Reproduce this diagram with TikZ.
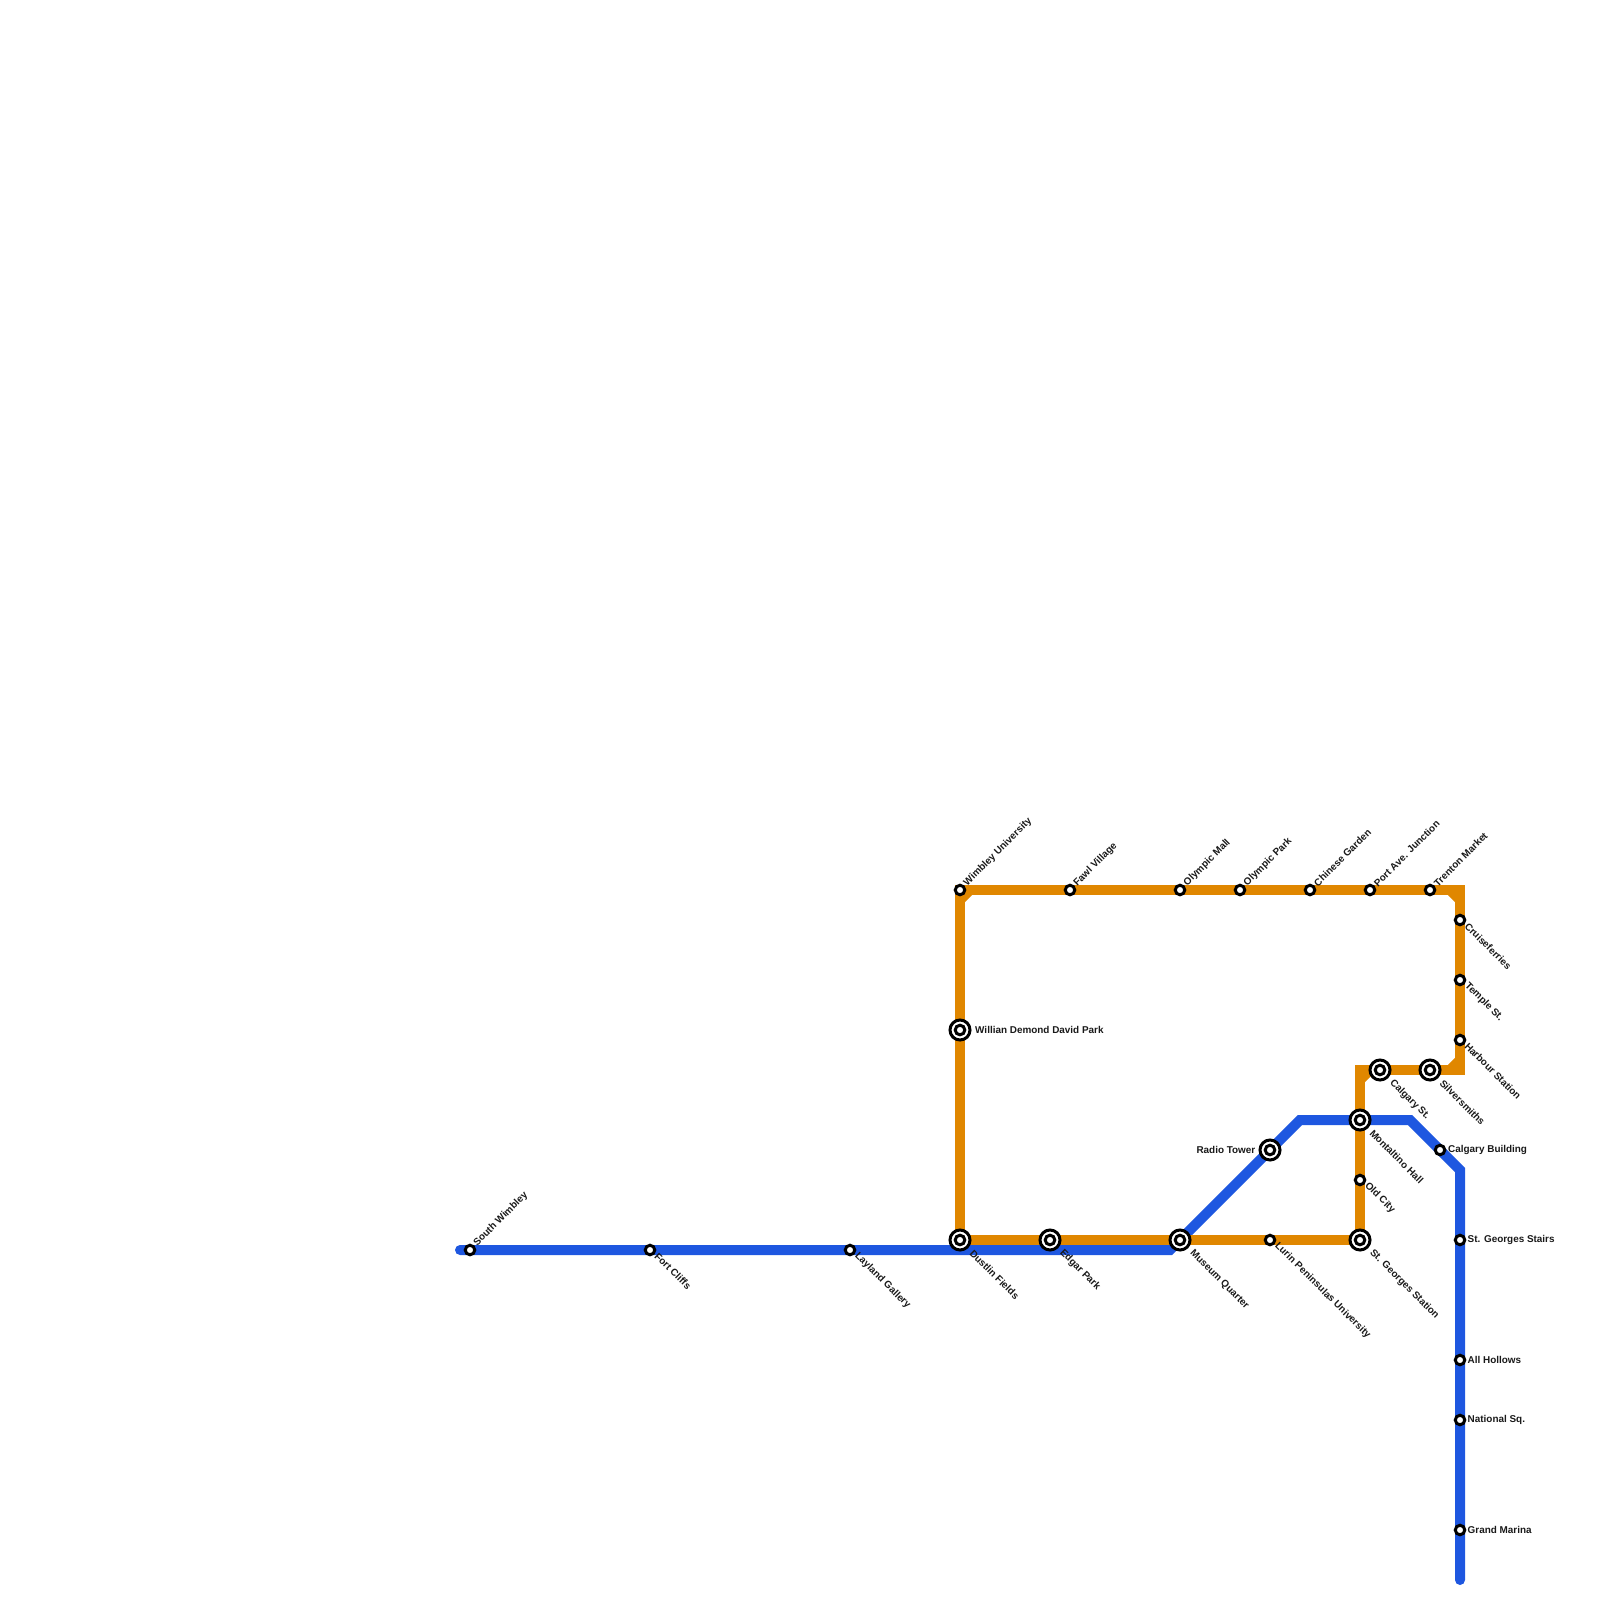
\documentclass[tikz,border=0pt]{standalone}
\usepackage{fontspec}
\setmainfont{Liberation Sans}
\usetikzlibrary{backgrounds}
\definecolor{linkblue}{RGB}{30, 87, 224}
\definecolor{linkorange}{RGB}{224, 135, 0}

\begin{document}
\begin{tikzpicture}[
    x=0.01cm, y=-0.01cm,
    bluetrack/.style={draw=linkblue, line width=1mm, line cap=round, line join=miter},
    orangetrack/.style={draw=linkorange, line width=1mm, line join=miter},
    halt/.style={circle, draw=black, fill=white, line width=0.3mm, minimum size=0.095cm, inner sep=0pt},
    hub/.style={circle, draw=black, fill=white, line width=0.3mm, minimum size=0.2cm, inner sep=0pt,
        path picture={\draw[line width=0.3mm] (path picture bounding box.center) circle (0.048cm);}},
    stationtext/.style={font=\fontsize{2.82}{3.4}\selectfont\bfseries, inner sep=0pt, text=black!90},
    uptext/.style={stationtext, rotate=45, anchor=west},
    downtext/.style={stationtext, rotate=-45, anchor=west},
    sidetext/.style={stationtext, anchor=west},
    lefttext/.style={stationtext, anchor=east}
]
\useasboundingbox (0,0) rectangle (1600,1600);

% Blue stations
\node[halt] (southwimbley) at (470,1250) {};
\node[halt] (fortcliffs) at (650,1250) {};
\node[halt] (laylandgallery) at (850,1250) {};
\node[hub] (radiotower) at (1270,1150) {};
\node[halt] (calgarybuilding) at (1440,1150) {};
\node[halt] (georgesstairs) at (1460,1240) {};
\node[halt] (allhollows) at (1460,1360) {};
\node[halt] (nationalsq) at (1460,1420) {};
\node[halt] (grandmarina) at (1460,1530) {};

% Orange stations
\node[hub] (dustlin) at (960,1240) {};
\node[hub] (edgarpark) at (1050,1240) {};
\node[hub] (museum) at (1180,1240) {};
\node[halt] (lurin) at (1270,1240) {};
\node[hub] (georgesstation) at (1360,1240) {};
\node[halt] (oldcity) at (1360,1180) {};
\node[hub] (montaltino) at (1360,1120) {};
\node[hub] (calgaryst) at (1380,1070) {};
\node[hub] (silversmiths) at (1430,1070) {};
\node[halt] (harbour) at (1460,1040) {};
\node[halt] (temple) at (1460,980) {};
\node[halt] (cruiseferries) at (1460,920) {};
\node[halt] (trenton) at (1430,890) {};
\node[halt] (portave) at (1370,890) {};
\node[halt] (chinesegarden) at (1310,890) {};
\node[halt] (olympicpark) at (1240,890) {};
\node[halt] (olympicmall) at (1180,890) {};
\node[halt] (fawl) at (1070,890) {};
\node[halt] (wimbleyuni) at (960,890) {};
\node[hub] (willian) at (960,1030) {};

% Bends and line ends
\coordinate (bluestart) at (460,1250);
\coordinate (blueturn) at (1170,1250);
\coordinate (bluetop) at (1300,1120);
\coordinate (bluetopend) at (1410,1120);
\coordinate (blueside) at (1460,1170);
\coordinate (blueend) at (1460,1580);
\coordinate (cornerne) at (1460,890);
\coordinate (cornerse) at (1460,1070);
\coordinate (cornermid) at (1360,1070);

% Tracks
\begin{scope}[on background layer]
\draw[bluetrack] (bluestart) -- (blueturn) -- (bluetop) -- (bluetopend) -- (blueside) -- (blueend);
\draw[orangetrack] (wimbleyuni.center) -- (cornerne) -- (cornerse) -- (cornermid) -- (georgesstation.center) -- (dustlin.center) -- cycle;
\draw[orangetrack] (960,900) -- (970,890);
\draw[orangetrack] (1450,890) -- (1460,900);
\draw[orangetrack] (1460,1060) -- (1450,1070);
\draw[orangetrack] (1370,1070) -- (1360,1080);
\end{scope}

% Labels
\node[uptext] (southwimbley-text) at (475,1245) {South Wimbley};
\node[downtext] (fortcliffs-text) at (656,1254) {Fort Cliffs};
\node[downtext] (laylandgallery-text) at (856,1254) {Layland Gallery};
\node[downtext] (dustlin-text) at (971,1251) {Dustlin Fields};
\node[downtext] (edgarpark-text) at (1061,1251) {Edgar Park};
\node[downtext] (museum-text) at (1191,1251) {Museum Quarter};
\node[downtext] (lurin-text) at (1276,1244) {Lurin Peninsulas University};
\node[downtext] (georgesstation-text) at (1371,1251) {St. Georges Station};
\node[downtext] (oldcity-text) at (1366,1184) {Old City};
\node[downtext] (montaltino-text) at (1371,1131) {Montaltino Hall};
\node[downtext] (calgaryst-text) at (1391,1081) {Calgary St.};
\node[downtext] (silversmiths-text) at (1441,1081) {Silversmiths};
\node[downtext] (harbour-text) at (1466,1044) {Harbour Station};
\node[downtext] (temple-text) at (1466,984) {Temple St.};
\node[downtext] (cruiseferries-text) at (1466,924) {Cruiseferries};
\node[uptext] (trenton-text) at (1435,885) {Trenton Market};
\node[uptext] (portave-text) at (1375,885) {Port Ave. Junction};
\node[uptext] (chinesegarden-text) at (1315,885) {Chinese Garden};
\node[uptext] (olympicpark-text) at (1245,885) {Olympic Park};
\node[uptext] (olympicmall-text) at (1185,885) {Olympic Mall};
\node[uptext] (fawl-text) at (1075,885) {Fawl Village};
\node[uptext] (wimbleyuni-text) at (965,885) {Wimbley University};
\node[sidetext] (willian-text) at (974.5,1030) {Willian Demond David Park};
\node[lefttext] (radiotower-text) at (1256,1150) {Radio Tower};
\node[sidetext] (calgarybuilding-text) at (1447.5,1150) {Calgary Building};
\node[sidetext] (georgesstairs-text) at (1467,1240) {St. Georges Stairs};
\node[sidetext] (allhollows-text) at (1467,1360) {All Hollows};
\node[sidetext] (nationalsq-text) at (1467,1420) {National Sq.};
\node[sidetext] (grandmarina-text) at (1467,1530) {Grand Marina};
\end{tikzpicture}
\end{document}
